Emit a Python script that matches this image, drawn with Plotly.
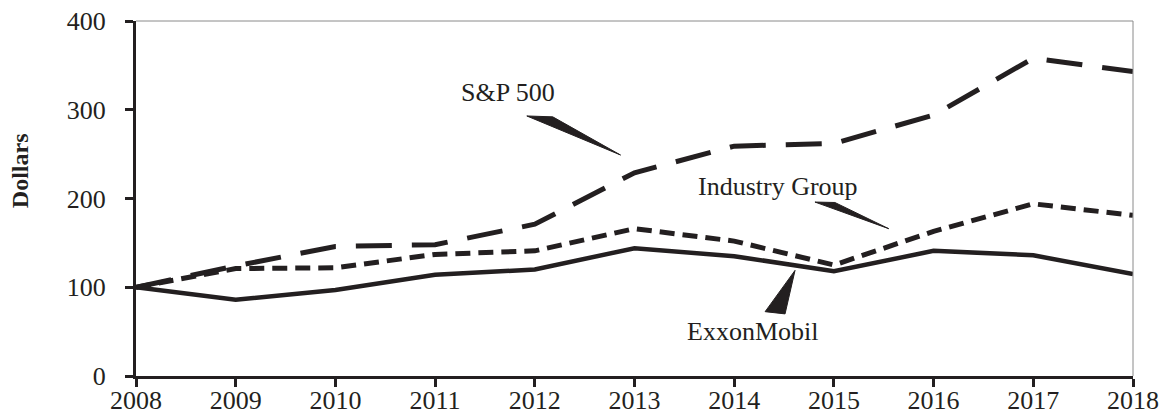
import plotly.graph_objects as go

years = [2008, 2009, 2010, 2011, 2012, 2013, 2014, 2015, 2016, 2017, 2018]
exxon = [100, 86, 97, 114, 120, 144, 135, 118, 141, 136, 115]
industry = [100, 121, 122, 137, 141, 166, 152, 125, 163, 194, 181]
sp500 = [100, 124, 146, 148, 171, 229, 259, 262, 294, 358, 343]

y_ticks = [0, 100, 200, 300, 400]

# callout labels: (text, x, y) and wedge pointer polygons (data units)
label_text = ["S&P 500", "Industry Group", "ExxonMobil"]
label_x = [2011.73, 2014.44, 2014.18]
label_y = [320, 214, 50]
wedges = [
    [(2011.92, 293), (2012.18, 292), (2012.86, 249)],
    [(2014.81, 196), (2015.01, 195.5), (2015.55, 166)],
    [(2014.31, 72.5), (2014.51, 70), (2014.61, 119)],
]

INK = "#231f20"
FONT = "Liberation Serif, Times New Roman, serif"

fig = go.Figure()
fig.add_trace(go.Scatter(x=years, y=sp500, mode="lines", name="S&P 500",
                         line=dict(color=INK, width=5, dash="36px,20px")))
fig.add_trace(go.Scatter(x=years, y=industry, mode="lines", name="Industry Group",
                         line=dict(color=INK, width=5, dash="15px,8px")))
fig.add_trace(go.Scatter(x=years, y=exxon, mode="lines", name="ExxonMobil",
                         line=dict(color=INK, width=4.5)))

for t, x, y in zip(label_text, label_x, label_y):
    fig.add_annotation(x=x, y=y, text=t, showarrow=False,
                       font=dict(family=FONT, size=26, color=INK))

for w in wedges:
    path = "M " + " L ".join(f"{px},{py}" for px, py in w) + " Z"
    fig.add_shape(type="path", path=path, xref="x", yref="y",
                  fillcolor=INK, line=dict(color=INK, width=1))

# y-axis title
fig.add_annotation(xref="paper", yref="paper", x=0, y=0.577, xshift=-116,
                   text="<b>Dollars</b>", textangle=-90, showarrow=False,
                   xanchor="center", yanchor="middle",
                   font=dict(family=FONT, size=24, color=INK))

# thin grey top and right frame
fig.add_shape(type="line", xref="paper", yref="paper", x0=0, x1=1, y0=1, y1=1,
              line=dict(color="#8a8a8a", width=1))
fig.add_shape(type="line", xref="paper", yref="paper", x0=1, x1=1, y0=0, y1=1,
              line=dict(color="#8a8a8a", width=1))

fig.update_layout(
    width=1159, height=419,
    margin=dict(l=136, r=26, t=21, b=43),
    paper_bgcolor="white", plot_bgcolor="white",
    showlegend=False,
    font=dict(family=FONT, size=26, color=INK),
)
fig.update_xaxes(range=[2008, 2018], tickvals=years, ticktext=[str(y) for y in years],
                 automargin=False, ticklabeloverflow="allow", ticklabelstandoff=-9,
                 showgrid=False, zeroline=False, showline=True, linecolor=INK, linewidth=3,
                 ticks="outside", ticklen=8, tickwidth=3, tickcolor=INK,
                 tickfont=dict(family=FONT, size=26, color=INK))
fig.update_yaxes(range=[0, 400], tickvals=y_ticks, automargin=False,
                 ticklabeloverflow="allow",
                 showgrid=False, zeroline=False, showline=True, linecolor=INK, linewidth=3,
                 ticks="outside", ticklen=8, tickwidth=3, tickcolor=INK,
                 ticklabelstandoff=14,
                 tickfont=dict(family=FONT, size=26, color=INK))

# remove the browser's default 8px body margin so the figure fills the window
fig.write_html("out.html", config={"displayModeBar": False},
               post_script="document.body.style.margin='0px';document.body.style.overflow='hidden';")
